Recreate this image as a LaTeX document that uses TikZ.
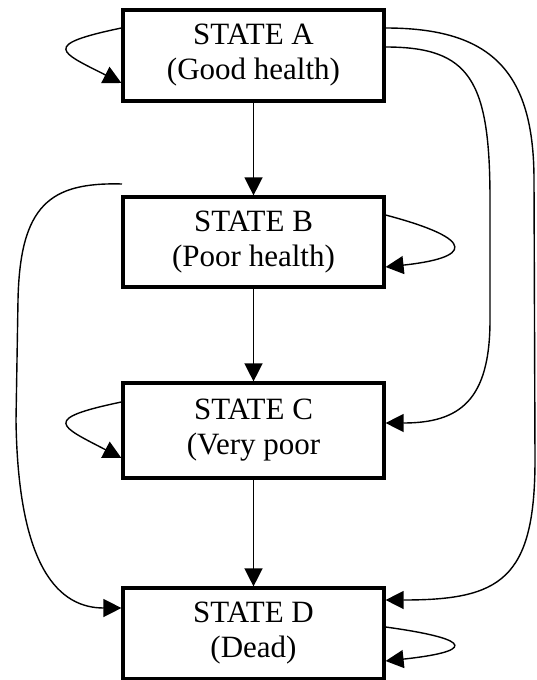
\documentclass[tikz,border=0pt]{standalone}
\usepackage{fontspec}
\setmainfont{Liberation Serif}
\usetikzlibrary{arrows.meta}

\begin{document}
\begin{tikzpicture}[x=1pt,y=-1pt,
  statebox/.style={draw=black, line width=3.2pt, minimum width=261pt,
    inner sep=0pt, align=center, font=\fontsize{31}{35}\selectfont},
  link/.style={line width=1.4pt, -{Triangle[length=18pt,width=18pt]}}]

\useasboundingbox (0,0) rectangle (536,680);

% the four health states
\node[statebox, minimum height=91pt] (A) at (253.5,55.5) {STATE A\\(Good health)};
\node[statebox, minimum height=90pt] (B) at (253.5,242)  {STATE B\\(Poor health)};
\node[statebox, minimum height=95pt] (C) at (253.5,430.5) {STATE C\\(Very poor};
\node[statebox, minimum height=91pt] (D) at (253.5,633.5) {STATE D\\(Dead)};

% straight transitions down the chain
\draw[link] (A.south) -- (B.north);
\draw[link] (B.south) -- (C.north);
\draw[link] (C.south) -- (D.north);

% staying in the same state
\draw[link] ([yshift=27.5pt]A.west) .. controls (40,45) and (60,52) .. ([yshift=-27.5pt]A.west);
\draw[link] ([yshift=27pt]B.east) .. controls (480,240) and (470,258) .. ([yshift=-25pt]B.east);
\draw[link] ([yshift=28.5pt]C.west) .. controls (40,419) and (60,426) .. ([yshift=-27.5pt]C.west);
\draw[link] ([yshift=6.5pt]D.east) .. controls (480,640) and (470,652) .. ([yshift=-27.5pt]D.east);

% long jumps on the right
\draw[link] ([yshift=8.5pt]A.east) .. controls (470,47) and (490,80) .. (490,200)
  -- (490,320) .. controls (490,400) and (460,423) .. ([yshift=7.5pt]C.east);
\draw[link] ([yshift=27.5pt]A.east) .. controls (490,28) and (534,70) .. (534,180)
  -- (535,460) .. controls (535,580) and (500,600) .. ([yshift=33.5pt]D.east);

% long jump on the left, with a free upper end
\coordinate (lstart) at (122,184);
\draw[link] (lstart) .. controls (50,182) and (20,205) .. (18,300)
  -- (16,420) .. controls (18,570) and (60,608) .. ([yshift=25.5pt]D.west);

\end{tikzpicture}
\end{document}
